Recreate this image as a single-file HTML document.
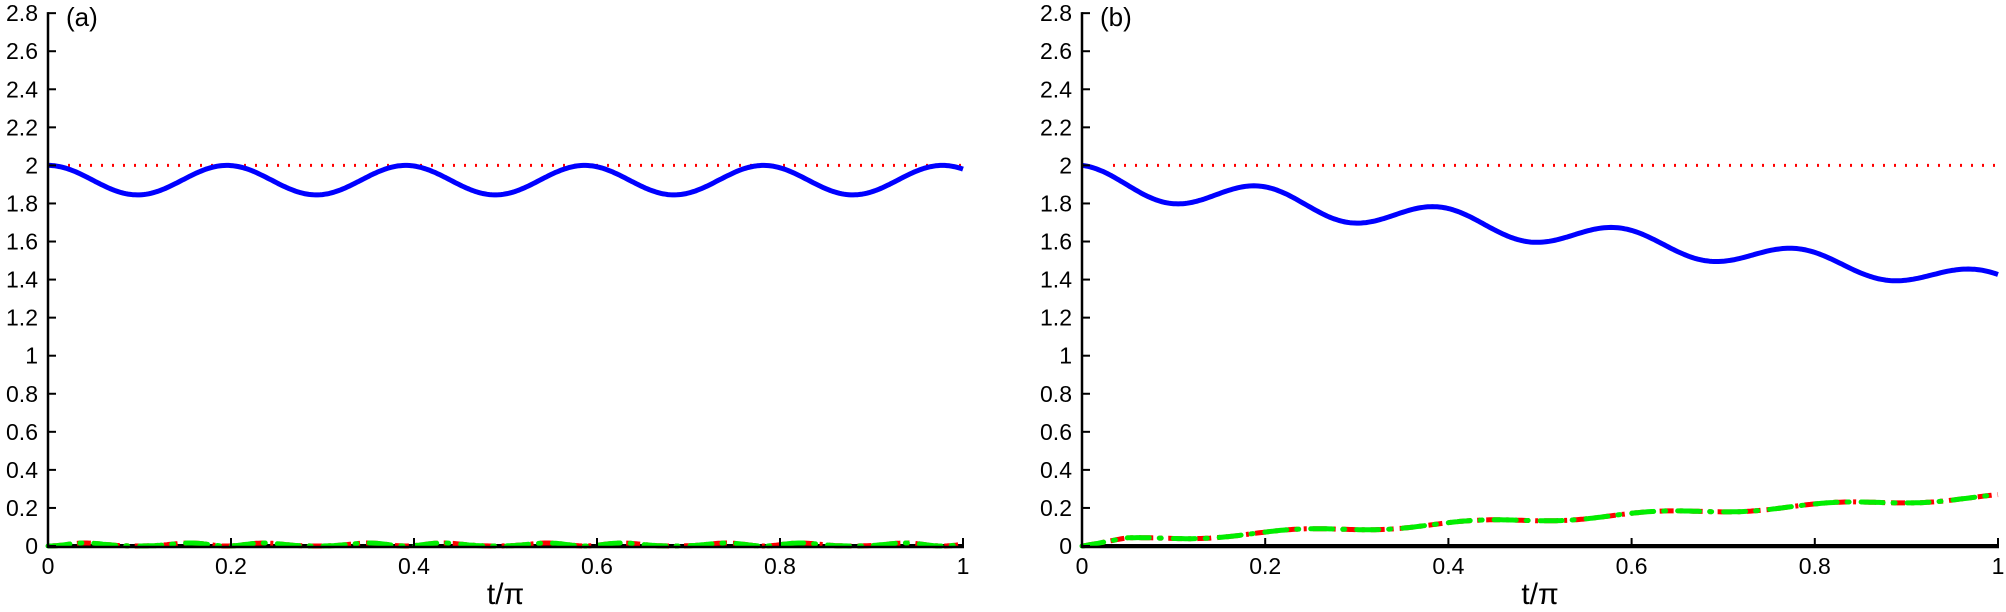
<!DOCTYPE html>
<html><head><meta charset="utf-8"><style>
html,body{margin:0;padding:0;background:#fff;}
svg{display:block;}
text{font-family:"Liberation Sans",sans-serif;fill:#000;}
</style></head><body>
<svg id="s" width="2006" height="612" xmlns="http://www.w3.org/2000/svg"></svg>
<script>
const s=document.getElementById('s');
const NS='http://www.w3.org/2000/svg';
function el(n,a,t){const e=document.createElementNS(NS,n);for(const k in a)e.setAttribute(k,a[k]);if(t!==undefined)e.textContent=t;s.appendChild(e);return e;}
const Y0=546, SC=190.3;
function panel(x0,x1,lab,fb,fg,dotStart){
  const W=x1-x0;
  const X=t=>x0+t*W, Y=v=>Y0-v*SC;
  el('line',{x1:dotStart,y1:Y(2),x2:x1+2,y2:Y(2),stroke:'#f00','stroke-width':3,'stroke-dasharray':'2 9'});
  el('line',{x1:x0,y1:Y0,x2:x1,y2:Y0,stroke:'#000','stroke-width':4});
  function pts(f){let p=[];for(let i=0;i<=400;i++){const t=i/400;p.push(X(t).toFixed(1)+','+Y(f(t)).toFixed(1));}return p.join(' ');}
  el('polyline',{points:pts(fb),fill:'none',stroke:'#0000ff','stroke-width':5,'stroke-linejoin':'round'});
  el('polyline',{points:pts(fg),fill:'none',stroke:'#ff0000','stroke-width':5,'stroke-dasharray':'14 6 3 6'});
  el('polyline',{points:pts(fg),fill:'none',stroke:'#00ee00','stroke-width':5,'stroke-dasharray':'22 10 2 12','stroke-linecap':'round'});
  el('line',{x1:x0,y1:Y(2.8)-1,x2:x0,y2:Y0+2,stroke:'#000','stroke-width':2.5});
  el('line',{x1:x0,y1:Y0+1,x2:x1+1,y2:Y0+1,stroke:'#000','stroke-width':2.5});
  for(let i=0;i<=14;i++){const v=i*0.2,y=Y(v);
    el('line',{x1:x0,y1:y,x2:x0+8,y2:y,stroke:'#000','stroke-width':2});
    let txt=(Math.round(v*10)/10).toString();
    el('text',{x:x0-10,y:y+8,'font-size':23,'text-anchor':'end'},txt);}
  for(let i=0;i<=5;i++){const t=i*0.2,x=X(t);
    el('line',{x1:x,y1:Y0,x2:x,y2:Y0-8,stroke:'#000','stroke-width':2});
    el('text',{x:x,y:574,'font-size':23,'text-anchor':'middle'},(Math.round(t*10)/10).toString());}
  el('text',{x:(x0+x1)/2,y:604,'font-size':30,'text-anchor':'middle'},'t/π');
  el('text',{x:x0+18,y:26,'font-size':26},lab);
}
const T=0.1955;
panel(48,963,'(a)',
  t=>2-0.0775*(1-Math.cos(2*Math.PI*t/T)),
  t=>0.012*(1-Math.cos(4*Math.PI*t/T))*(0.6+0.4*Math.cos(2*Math.PI*t/T)),
  68);
panel(1082,1998,'(b)',
  t=>2-0.56*t-(0.075-0.022*t)*(1-Math.cos(2*Math.PI*t/T)),
  t=>0.24*t+0.02*Math.min(1,t/0.05)+0.012*Math.sin(2*Math.PI*t/T+0.3)*Math.min(1,t/0.05),
  1113);
</script>
</body></html>
